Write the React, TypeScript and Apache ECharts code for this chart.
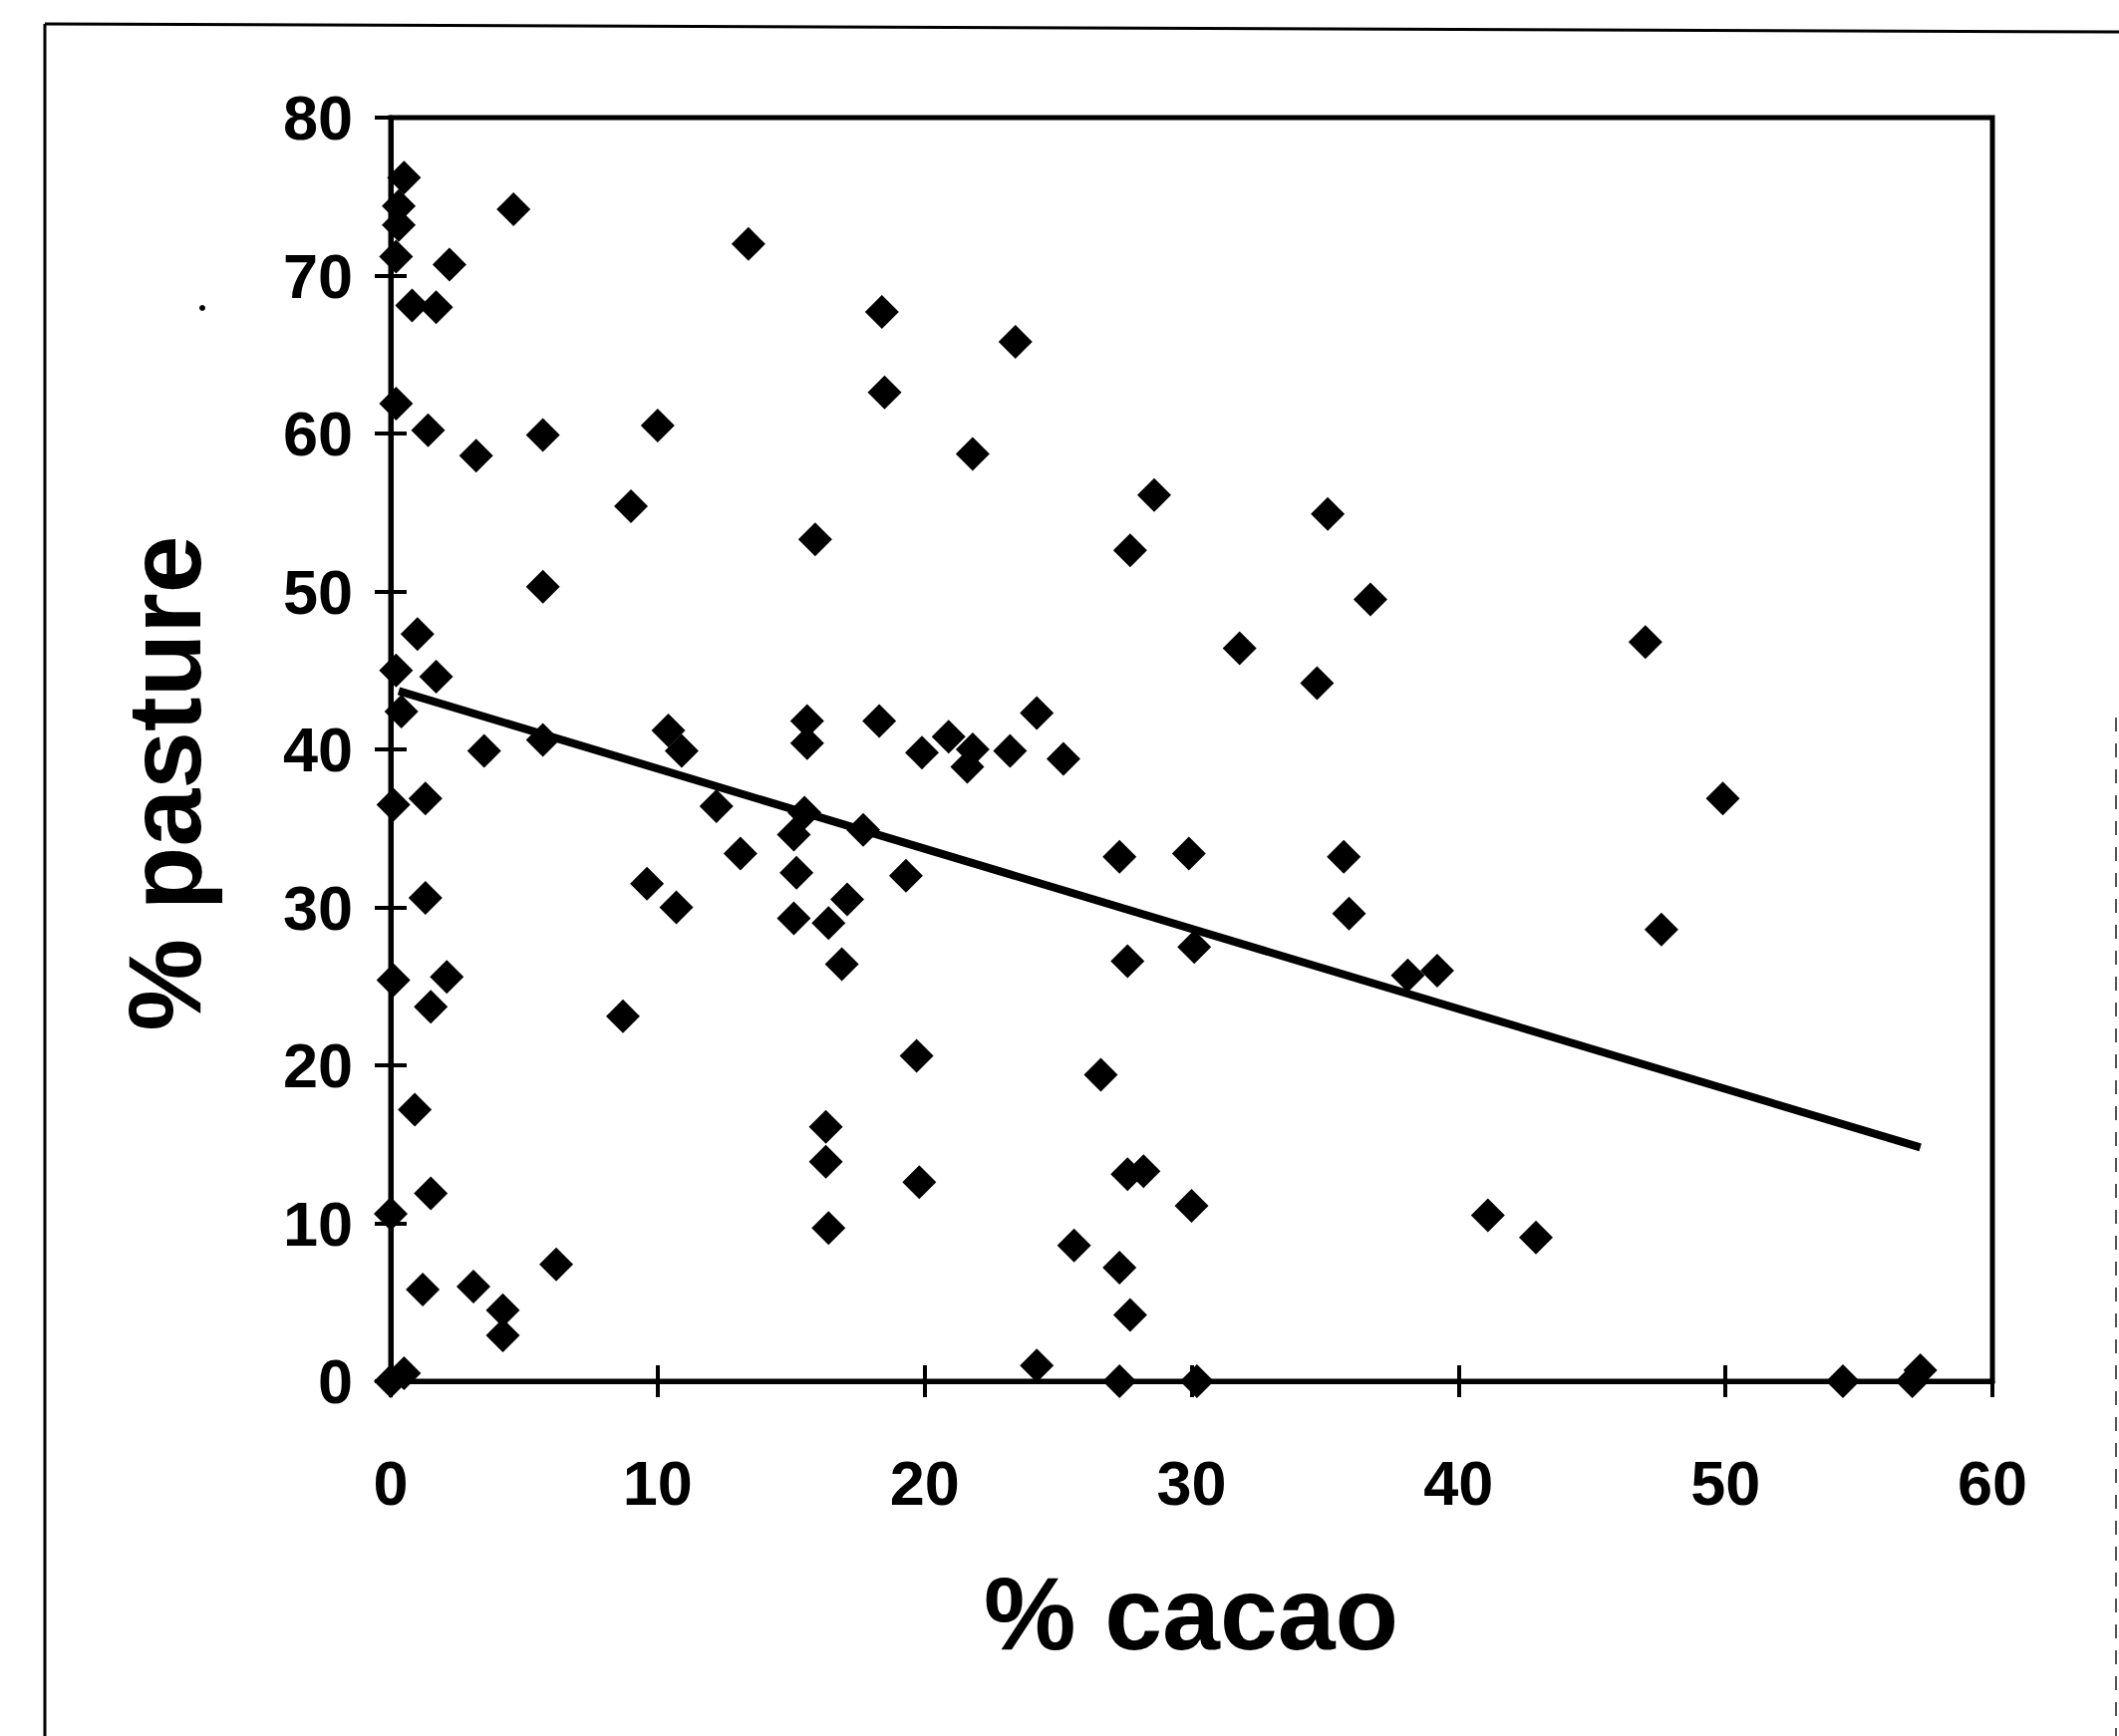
import React, { useEffect, useRef } from "react";
import * as echarts from "echarts";

// % cacao (x) and % pasture (y) for each plot
const cacao = [
  0.5, 0.3, 0.3, 0.2, 4.6, 2.2, 13.4, 0.8, 1.7, 18.4, 18.5, 0.2, 1.4, 3.2, 5.7, 10.0, 9.0, 15.9, 5.7, 1.0,
  0.2, 1.7, 0.4, 18.3, 15.6, 15.6, 10.4, 10.9, 23.4, 21.8, 28.6, 27.7, 35.1, 36.7, 31.8, 34.7, 24.2, 20.9, 21.8, 21.6,
  19.9, 23.2, 25.2, 47.0, 3.5, 5.7, 0.1, 1.3, 12.2, 15.5, 15.1, 17.7, 13.1, 15.2, 19.3, 9.6, 10.7, 1.3, 17.1, 15.1,
  16.4, 16.9, 0.1, 2.1, 1.5, 8.7, 19.7, 0.9, 16.3, 16.3, 19.8, 1.5, 0.0, 16.4, 6.2, 1.2, 3.1, 4.2, 4.2, 0.0,
  0.5, 27.3, 29.9, 35.7, 35.9, 30.1, 27.6, 38.1, 39.2, 26.6, 27.6, 28.2, 30.0, 25.6, 27.3, 27.7, 24.2, 27.3, 30.2, 49.9,
  47.6, 41.1, 42.9, 54.4, 57.0, 57.3,
];
const pasture = [
  76.2, 74.4, 73.2, 71.2, 74.2, 70.7, 72.0, 68.1, 68.0, 67.7, 62.6, 61.9, 60.2, 58.6, 59.9, 60.5, 55.4, 53.3, 50.3, 47.3,
  45.0, 44.6, 42.4, 41.8, 41.8, 40.4, 41.2, 39.9, 65.8, 58.7, 56.1, 52.6, 54.9, 49.5, 46.4, 44.2, 42.3, 40.8, 40.0, 38.9,
  39.8, 39.9, 39.4, 46.8, 39.9, 40.6, 36.5, 36.9, 36.4, 36.0, 34.6, 34.9, 33.4, 32.2, 32.0, 31.5, 30.0, 30.6, 30.5, 29.3,
  29.0, 26.4, 25.4, 25.6, 23.7, 23.1, 20.6, 17.2, 16.1, 13.9, 12.6, 11.9, 10.6, 9.7, 7.4, 5.8, 6.0, 4.5, 2.9, 0.0,
  0.5, 33.2, 33.4, 33.2, 29.6, 27.5, 26.6, 25.7, 26.0, 19.4, 13.1, 13.3, 11.1, 8.6, 7.2, 4.2, 1.0, 0.0, 0.0, 36.9,
  28.6, 10.5, 9.1, 0.0, 0.0, 0.7,
];

// fitted regression line end points
const trendCacao = [0.3, 57.3];
const trendPasture = [43.7, 14.8];

// axes
const xTicks = [0, 10, 20, 30, 40, 50, 60];
const yTicks = [0, 10, 20, 30, 40, 50, 60, 70, 80];
const xTitle = "% cacao";
const yTitle = "% pasture";

export default function App() {
  const ref = useRef<HTMLDivElement>(null);

  useEffect(() => {
    document.body.style.margin = "0";
    document.body.style.overflow = "hidden";
    const chart = echarts.init(ref.current!, null, { renderer: "svg" });

    const labelFont = {
      fontFamily: "Liberation Sans, Arial, sans-serif",
      fontWeight: "bold" as const,
      fontSize: 63,
      color: "#000",
    };
    const xMin = xTicks[0];
    const xMax = xTicks[xTicks.length - 1];
    const xInt = xTicks[1] - xTicks[0];
    const yMin = yTicks[0];
    const yMax = yTicks[yTicks.length - 1];
    const yInt = yTicks[1] - yTicks[0];

    chart.setOption({
      animation: false,
      backgroundColor: "#fff",
      grid: {
        left: 392,
        top: 118,
        width: 1607,
        height: 1268,
        show: true,
        borderColor: "#000",
        borderWidth: 5,
        backgroundColor: "transparent",
      },
      xAxis: [
        {
          type: "value",
          position: "bottom",
          min: xMin,
          max: xMax,
          interval: xInt,
          splitLine: { show: false },
          axisLine: { show: true, onZero: false, lineStyle: { color: "#000", width: 5 } },
          axisTick: { show: true, inside: false, length: 16, lineStyle: { color: "#000", width: 4 } },
          axisLabel: { ...labelFont, margin: 70 },
        },
        {
          type: "value",
          position: "bottom",
          min: xMin,
          max: xMax,
          interval: xInt,
          splitLine: { show: false },
          axisLine: { show: false },
          axisTick: { show: true, inside: true, length: 16, lineStyle: { color: "#000", width: 4 } },
          axisLabel: { show: false },
        },
      ],
      yAxis: [
        {
          type: "value",
          position: "left",
          min: yMin,
          max: yMax,
          interval: yInt,
          splitLine: { show: false },
          axisLine: { show: true, onZero: false, lineStyle: { color: "#000", width: 5 } },
          axisTick: { show: true, inside: false, length: 16, lineStyle: { color: "#000", width: 4 } },
          axisLabel: { ...labelFont, margin: 38 },
        },
        {
          type: "value",
          position: "left",
          min: yMin,
          max: yMax,
          interval: yInt,
          splitLine: { show: false },
          axisLine: { show: false },
          axisTick: { show: true, inside: true, length: 16, lineStyle: { color: "#000", width: 4 } },
          axisLabel: { show: false },
        },
      ],
      series: [
        {
          type: "scatter",
          xAxisIndex: 0,
          yAxisIndex: 0,
          symbol: "diamond",
          symbolSize: 34,
          clip: false,
          itemStyle: { color: "#000", opacity: 1 },
          data: cacao.map((c, i) => [c, pasture[i]]),
        },
        {
          type: "line",
          xAxisIndex: 0,
          yAxisIndex: 0,
          showSymbol: false,
          symbol: "none",
          lineStyle: { color: "#000", width: 8, opacity: 1 },
          data: trendCacao.map((c, i) => [c, trendPasture[i]]),
          z: 3,
        },
      ],
      graphic: [
        {
          type: "line",
          shape: { x1: 45, y1: 24, x2: 2126, y2: 32 },
          style: { stroke: "#000", lineWidth: 3 },
        },
        {
          type: "line",
          shape: { x1: 45, y1: 24, x2: 45, y2: 1742 },
          style: { stroke: "#000", lineWidth: 3 },
        },
        {
          type: "line",
          shape: { x1: 2123, y1: 720, x2: 2123, y2: 1742 },
          style: { stroke: "#555", lineWidth: 2, lineDash: [14, 12] },
        },
        {
          type: "circle",
          shape: { cx: 203, cy: 309, r: 3 },
          style: { fill: "#000" },
        },
        {
          type: "text",
          x: 1195,
          y: 1619,
          style: {
            text: xTitle,
            fontFamily: "Liberation Sans, Arial, sans-serif",
            fontWeight: "bold",
            fontSize: 104,
            fill: "#000",
            align: "center",
            verticalAlign: "middle",
          },
        },
        {
          type: "text",
          x: 165,
          y: 786,
          rotation: Math.PI / 2,
          style: {
            text: yTitle,
            fontFamily: "Liberation Sans, Arial, sans-serif",
            fontWeight: "bold",
            fontSize: 104,
            fill: "#000",
            align: "center",
            verticalAlign: "middle",
          },
        },
      ],
    });

    return () => chart.dispose();
  }, []);

  return (
    <div
      ref={ref}
      style={{ position: "absolute", left: 0, top: 0, width: 2126, height: 1742 }}
    />
  );
}
